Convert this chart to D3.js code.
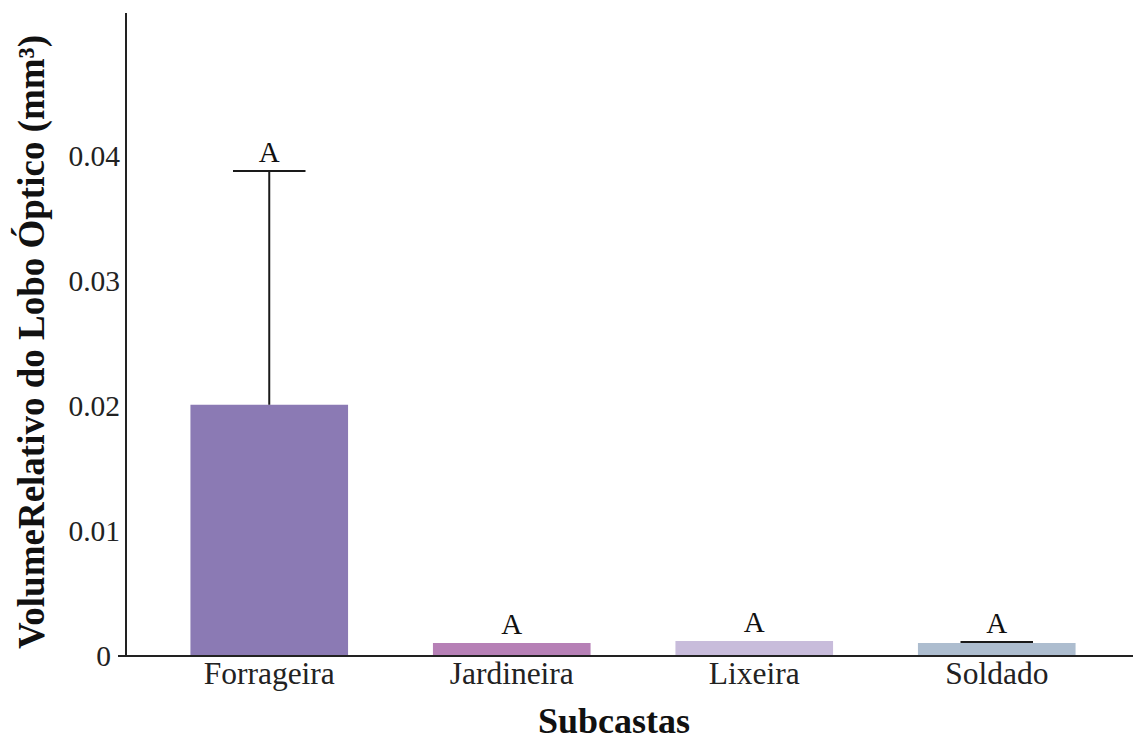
<!DOCTYPE html>
<html>
<head>
<meta charset="utf-8">
<script src="https://cdn.jsdelivr.net/npm/d3@7"></script>
<style>
  html, body { margin: 0; padding: 0; background: #fff; }
  svg { display: block; }
  svg text { font-family: "Liberation Serif", "Times New Roman", serif; }
</style>
</head>
<body>
<svg id="chart" width="1136" height="742"></svg>
<script>
// Relative optic lobe volume per subcaste (mean and upper error)
const categories = ["Forrageira", "Jardineira", "Lixeira", "Soldado"];
const means      = [0.0201, 0.00104, 0.0012, 0.00104];
const errTops    = [0.0388, 0.00104, 0.0012, 0.00112];
const letters    = ["A", "A", "A", "A"];
const barColors  = ["#8b7ab4", "#b680b6", "#c8bcdb", "#adbdcf"];
const yTicks     = [0, 0.01, 0.02, 0.03, 0.04];
const yTickLabels = ["0", "0.01", "0.02", "0.03", "0.04"];

const serif = '"Liberation Serif", "Times New Roman", serif';
const svg = d3.select("#chart");
const axisX0 = 126, plotBottom = 656, plotTop = 13, axisRight = 1133;

const x = d3.scaleBand()
  .domain(categories)
  .range([148, 1118])
  .paddingInner(0.35)
  .paddingOuter(0.175);

const y = d3.scaleLinear()
  .domain([0, 0.05144])
  .range([plotBottom, plotTop]);

// bars
svg.append("g").selectAll("rect")
  .data(categories)
  .join("rect")
  .attr("x", d => x(d))
  .attr("width", x.bandwidth())
  .attr("y", (d, i) => y(means[i]))
  .attr("height", (d, i) => y(0) - y(means[i]))
  .attr("fill", (d, i) => barColors[i]);

// upper error bars
const capW = x.bandwidth() * 0.46;
const eb = svg.append("g").attr("stroke", "#1a1a1a").attr("stroke-width", 2);
categories.forEach((c, i) => {
  if (errTops[i] <= means[i]) return;
  const cx = x(c) + x.bandwidth() / 2;
  eb.append("line").attr("x1", cx).attr("x2", cx)
    .attr("y1", y(means[i])).attr("y2", y(errTops[i]));
  eb.append("line").attr("x1", cx - capW / 2).attr("x2", cx + capW / 2)
    .attr("y1", y(errTops[i])).attr("y2", y(errTops[i]));
});

// significance letters
svg.append("g").selectAll("text")
  .data(categories)
  .join("text")
  .attr("x", d => x(d) + x.bandwidth() / 2)
  .attr("y", (d, i) => y(Math.max(means[i], errTops[i])) - 9)
  .attr("text-anchor", "middle")
  .style("font-family", serif)
  .style("font-size", "29px")
  .attr("fill", "#111")
  .text((d, i) => letters[i]);

// y axis
const yAxis = d3.axisLeft(y)
  .tickValues(yTicks)
  .tickFormat((d, i) => yTickLabels[i])
  .tickSize(0)
  .tickPadding(6);
const gy = svg.append("g").attr("transform", `translate(${axisX0},0)`).call(yAxis);
gy.select(".domain").remove();
gy.selectAll("text")
  .style("font-family", serif)
  .style("font-size", "29.5px")
  .attr("fill", "#222")
  .attr("x", d => d === 0 ? -15 : -6);
svg.append("line")
  .attr("x1", axisX0).attr("x2", axisX0)
  .attr("y1", plotTop).attr("y2", plotBottom)
  .attr("stroke", "#222").attr("stroke-width", 2);

// x axis
const xAxis = d3.axisBottom(x).tickSize(0).tickPadding(10);
const gx = svg.append("g").attr("transform", `translate(0,${plotBottom})`).call(xAxis);
gx.select(".domain").remove();
gx.selectAll("text")
  .style("font-family", serif)
  .style("font-size", "31.5px")
  .attr("fill", "#222")
  .attr("dy", null)
  .attr("y", 28);
svg.append("line")
  .attr("x1", 118).attr("x2", axisRight)
  .attr("y1", plotBottom).attr("y2", plotBottom)
  .attr("stroke", "#222").attr("stroke-width", 2);

// axis titles
svg.append("text")
  .attr("x", 614).attr("y", 733)
  .attr("text-anchor", "middle")
  .style("font-family", serif)
  .style("font-weight", "bold")
  .style("font-size", "36px")
  .attr("fill", "#111")
  .text("Subcastas");

svg.append("text")
  .attr("transform", "translate(44,342) rotate(-90)")
  .attr("text-anchor", "middle")
  .style("font-family", serif)
  .style("font-weight", "bold")
  .style("font-size", "37px")
  .attr("fill", "#111")
  .text("VolumeRelativo do Lobo Óptico (mm³)");
</script>
</body>
</html>
